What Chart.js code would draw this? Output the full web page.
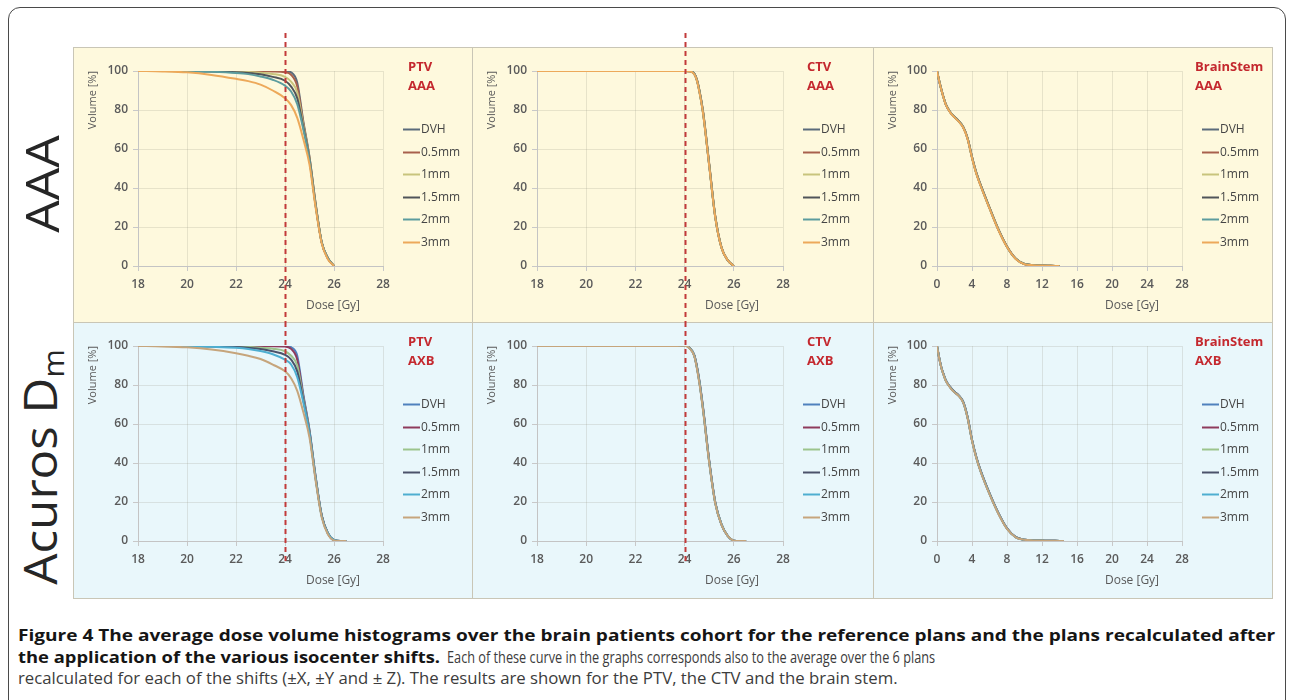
<!DOCTYPE html>
<html><head><meta charset="utf-8">
<script src="https://cdn.jsdelivr.net/npm/chart.js@4.4.1/dist/chart.umd.min.js"></script>
<style>
html,body{margin:0;padding:0;background:#fff;}
body{width:1290px;height:700px;position:relative;overflow:hidden;font-family:"Open Sans",sans-serif;}
#frame{position:absolute;left:8px;top:7px;width:1276px;height:720px;border:1px solid #4a4a4a;border-radius:12px;}
.bg{position:absolute;box-sizing:border-box;border:1px solid #c9c6b6;}
.vdiv{position:absolute;width:1px;background:#c9c6b6;}
canvas{position:absolute;}
.rowlab{position:absolute;white-space:nowrap;font-family:"Open Sans",sans-serif;font-weight:400;font-size:46px;color:#262626;line-height:1;}
.cap{position:absolute;white-space:nowrap;font-size:16.5px;color:#3c3c3c;transform-origin:0 50%;line-height:1;}
.cap.b{color:#151515;font-weight:700;}
</style></head>
<body>
<div id="frame"></div>
<div class="bg" style="left:73px;top:47px;width:1200px;height:276px;background:#fef9dd;"></div>
<div class="bg" style="left:73px;top:322px;width:1200px;height:277px;background:#e9f7fb;"></div>
<div class="vdiv" style="left:472px;top:47px;height:552px;"></div>
<div class="vdiv" style="left:873px;top:47px;height:552px;"></div>

<div class="rowlab" id="lab1" data-w="97" style="left:41px;top:184px;">AAA</div>
<div class="rowlab" id="lab2" data-w="235" style="left:42px;top:467px;">Acuros D<sub style="font-size:62%;vertical-align:-0.25em;">m</sub></div>

<canvas id="c1" width="399" height="297" style="left:73px;top:25px;"></canvas>
<canvas id="c2" width="401" height="297" style="left:472px;top:25px;"></canvas>
<canvas id="c3" width="399" height="297" style="left:873px;top:25px;"></canvas>
<canvas id="c4" width="399" height="293" style="left:73px;top:305px;"></canvas>
<canvas id="c5" width="401" height="293" style="left:472px;top:305px;"></canvas>
<canvas id="c6" width="399" height="293" style="left:873px;top:305px;"></canvas>

<div class="cap b" data-w="1257" style="left:18px;top:627px;">Figure 4 The average dose volume histograms over the brain patients cohort for the reference plans and the plans recalculated after</div>
<div class="cap b" data-w="422" style="left:18px;top:649px;">the application of the various isocenter shifts.</div>
<div class="cap" data-w="488" style="left:447px;top:649px;">Each of these curve in the graphs corresponds also to the average over the 6 plans</div>
<div class="cap" data-w="880" style="left:18px;top:670px;">recalculated for each of the shifts (±X, ±Y and ± Z). The results are shown for the PTV, the CTV and the brain stem.</div>

<script>
// ---------------- DATA ----------------
const seriesLabels = ['DVH', '0.5mm', '1mm', '1.5mm', '2mm', '3mm'];
const referenceDose = 24;

// PTV, AAA
const ptvAAADose = [18, 19, 20, 21, 22, 22.5, 23, 23.5, 24, 24.25, 24.5, 24.75, 25, 25.25, 25.5, 25.75, 26];
const ptvAAAVolumes = [
  [100, 100, 100, 100, 100, 100, 100, 100, 100, 99.3, 94, 74, 56, 32, 12, 4, 0],
  [100, 100, 100, 100, 100, 100, 99.9, 99.8, 99.4, 98, 92, 73, 55.5, 32, 12, 4, 0],
  [100, 100, 100, 99.9, 99.7, 99.5, 99.1, 98.5, 97, 94.5, 89, 72, 55, 31.5, 12, 4, 0],
  [100, 100, 99.9, 99.8, 99.4, 99, 98.3, 97, 95, 92, 86, 71, 54.5, 31, 12, 4, 0],
  [100, 100, 99.9, 99.6, 99, 98.4, 97.2, 95.5, 92.5, 89.5, 83, 70, 54, 31, 12, 4, 0],
  [100, 99.8, 99.3, 98, 96, 94.8, 93, 90, 86, 82.5, 76, 65, 52, 30, 11.5, 3.5, 0]
];

// CTV, AAA
const ctvAAADose = [18, 20, 22, 23, 24, 24.25, 24.4, 24.5, 24.6, 24.75, 25, 25.25, 25.5, 25.75, 26];
const ctvAAAVolumes = [
  [100, 100, 100, 100, 100, 99.8, 98.5, 95.5, 90, 79, 52, 25, 9.5, 3, 0],
  [100, 100, 100, 100, 100, 99.8, 98.6, 95.7, 90.3, 79.4, 52.5, 25.3, 9.6, 3, 0],
  [100, 100, 100, 100, 100, 99.8, 98.5, 95.5, 90, 79, 52.2, 25.1, 9.5, 3, 0],
  [100, 100, 100, 100, 100, 99.8, 98.4, 95.3, 89.8, 78.7, 51.8, 24.8, 9.4, 3, 0],
  [100, 100, 100, 100, 100, 99.8, 98.4, 95.2, 89.6, 78.5, 51.6, 24.7, 9.4, 3, 0],
  [100, 100, 100, 100, 100, 99.7, 98.2, 95, 89.3, 78.2, 51.4, 24.6, 9.3, 3, 0]
];

// BrainStem, AAA
const bsAAADose = [0, 0.25, 0.5, 0.75, 1, 1.5, 2, 2.5, 3, 3.5, 4, 4.5, 5, 6, 7, 8, 9, 10, 11, 12, 13, 14];
const bsAAAVolumes = [
  [100, 95, 90.5, 86.5, 83, 79, 76.5, 74.3, 71.3, 65.5, 56, 47.8, 41.5, 30, 19, 10, 3.8, 1, 0.4, 0.2, 0.1, 0],
  [100, 95, 90.5, 86.5, 83, 79, 76.5, 74.3, 71.3, 65.5, 56, 47.8, 41.5, 30, 19, 10, 3.8, 1, 0.4, 0.2, 0.1, 0],
  [100, 95, 90.4, 86.4, 83, 79, 76.4, 74.2, 71.2, 65.4, 55.8, 47.6, 41.3, 29.9, 18.9, 9.9, 3.7, 1, 0.4, 0.2, 0.1, 0],
  [100, 94.9, 90.4, 86.4, 82.9, 78.9, 76.4, 74.2, 71.1, 65.3, 55.7, 47.5, 41.2, 29.8, 18.8, 9.9, 3.7, 1, 0.4, 0.2, 0.1, 0],
  [100, 94.9, 90.3, 86.3, 82.9, 78.9, 76.3, 74.1, 71.1, 65.2, 55.6, 47.4, 41.1, 29.7, 18.8, 9.8, 3.7, 1, 0.4, 0.2, 0.1, 0],
  [100, 94.8, 90.2, 86.2, 82.8, 78.8, 76.2, 74, 70.9, 65, 55.4, 47.2, 40.9, 29.5, 18.6, 9.7, 3.6, 0.9, 0.4, 0.2, 0.1, 0]
];

// PTV, AXB
const ptvAXBDose = [18, 19, 20, 21, 22, 22.5, 23, 23.5, 24, 24.25, 24.5, 24.75, 25, 25.25, 25.5, 25.75, 26, 26.25, 26.5];
const ptvAXBVolumes = [
  [100, 100, 100, 100, 100, 100, 100, 100.1, 100.4, 99.4, 95, 75, 57, 33, 13, 4, 0.5, 0, 0],
  [100, 100, 100, 100, 100, 100, 99.9, 99.9, 99.8, 98.5, 93, 74, 56.5, 33, 13, 4, 0.5, 0, 0],
  [100, 100, 100, 99.9, 99.7, 99.5, 99.1, 98.6, 97.3, 95, 90, 73, 56, 32.5, 13, 4, 0.5, 0, 0],
  [100, 100, 99.9, 99.8, 99.5, 99.1, 98.5, 97.3, 95.5, 93, 87, 72, 55.5, 32, 13, 4, 0.5, 0, 0],
  [100, 100, 99.9, 99.6, 99.1, 98.5, 97.4, 95.8, 93, 90.5, 84, 71, 55, 32, 12.5, 4, 0.5, 0, 0],
  [100, 99.8, 99.3, 98.2, 96.3, 95, 93.3, 90.5, 87, 83.5, 77, 66, 53, 31, 12, 3.5, 0.3, 0, 0]
];

// CTV, AXB
const ctvAXBDose = [18, 20, 22, 23, 23.5, 24, 24.2, 24.4, 24.6, 24.75, 25, 25.25, 25.5, 25.75, 26, 26.25, 26.5];
const ctvAXBVolumes = [
  [100, 100, 100, 100, 100.1, 100.4, 99, 95, 82, 68, 41, 19.5, 8.5, 2.7, 0.2, 0, 0],
  [100, 100, 100, 100, 100.1, 100.4, 99.1, 95.2, 82.4, 68.5, 41.4, 19.8, 8.6, 2.7, 0.2, 0, 0],
  [100, 100, 100, 100, 100.1, 100.3, 99, 95, 82, 68, 41, 19.5, 8.5, 2.7, 0.2, 0, 0],
  [100, 100, 100, 100, 100.1, 100.3, 98.9, 94.8, 81.6, 67.6, 40.7, 19.3, 8.4, 2.6, 0.2, 0, 0],
  [100, 100, 100, 100, 100.1, 100.3, 98.9, 94.7, 81.4, 67.4, 40.5, 19.2, 8.4, 2.6, 0.2, 0, 0],
  [100, 100, 100, 100, 100.1, 100.2, 98.8, 94.5, 81, 67, 40.2, 19, 8.3, 2.6, 0.2, 0, 0]
];

// BrainStem, AXB
const bsAXBDose = [0, 0.25, 0.5, 0.75, 1, 1.5, 2, 2.5, 3, 3.5, 4, 4.5, 5, 6, 7, 8, 9, 10, 11, 12, 13, 14, 14.5];
const bsAXBVolumes = [
  [100, 94, 89, 85.5, 82.5, 79, 76.5, 74.6, 71.3, 63.5, 52, 43, 36, 24.5, 14.5, 6.5, 2, 0.6, 0.3, 0.2, 0.1, 0.05, 0],
  [100, 94, 89, 85.5, 82.5, 79, 76.5, 74.6, 71.3, 63.5, 52, 43, 36, 24.5, 14.5, 6.5, 2, 0.6, 0.3, 0.2, 0.1, 0.05, 0],
  [100, 93.9, 88.9, 85.4, 82.4, 78.9, 76.4, 74.5, 71.2, 63.3, 51.8, 42.8, 35.8, 24.4, 14.4, 6.4, 2, 0.6, 0.3, 0.2, 0.1, 0.05, 0],
  [100, 93.9, 88.9, 85.4, 82.4, 78.9, 76.4, 74.4, 71.1, 63.2, 51.7, 42.7, 35.7, 24.3, 14.3, 6.4, 2, 0.6, 0.3, 0.2, 0.1, 0.05, 0],
  [100, 93.8, 88.8, 85.3, 82.3, 78.8, 76.3, 74.4, 71, 63.1, 51.6, 42.6, 35.6, 24.2, 14.3, 6.3, 1.9, 0.6, 0.3, 0.2, 0.1, 0.05, 0],
  [100, 93.7, 88.7, 85.2, 82.2, 78.7, 76.2, 74.3, 70.9, 62.9, 51.4, 42.4, 35.4, 24, 14.1, 6.2, 1.9, 0.6, 0.3, 0.2, 0.1, 0.05, 0]
];

const aaaColors = ['#5b6b7b', '#a8604c', '#c9c47c', '#505459', '#5c9c9e', '#eda95a'];
const axbColors = ['#4f81bd', '#8e3b5c', '#9cc48c', '#4b526a', '#4eaed0', '#c6a57c'];

// ---------------- DRAWING ----------------
const extras = {
  id: 'extras',
  afterDatasetsDraw(chart, args, o) {
    const {ctx, chartArea: a} = chart;
    const x = chart.scales.x;
    ctx.save();
    if (o.refLine) {
      const px = Math.round(x.getPixelForValue(referenceDose)) + 0.5;
      ctx.strokeStyle = '#c23a3a';
      ctx.lineWidth = 2;
      ctx.setLineDash([5, 4]);
      ctx.beginPath();
      ctx.moveTo(px, o.refTop);
      ctx.lineTo(px, o.refBottom);
      ctx.stroke();
      ctx.setLineDash([]);
    }
    ctx.textBaseline = 'middle';
    ctx.textAlign = 'center';
    ctx.font = '12px "Open Sans"';
    ctx.fillStyle = '#595959';
    ctx.fillText('Dose [Gy]', a.left + 195, a.bottom + 39.5);
    ctx.textAlign = 'left';
    ctx.font = 'bold 13px "Open Sans"';
    ctx.fillStyle = '#c4282e';
    o.titles.forEach((t, i) => ctx.fillText(t, a.right + o.titleDx, a.top + (i ? 15 : -4)));
    ctx.font = '12px "Open Sans"';
    chart.data.datasets.forEach((d, i) => {
      const y = Math.round(a.top + 58 + i * 22.6) + 0.5;
      ctx.strokeStyle = d.borderColor;
      ctx.lineWidth = 2;
      ctx.beginPath();
      ctx.moveTo(a.right + 20, y);
      ctx.lineTo(a.right + 37, y);
      ctx.stroke();
      ctx.fillStyle = '#454545';
      ctx.fillText(d.label, a.right + 38, y);
    });
    ctx.restore();
  }
};

function makeChart(id, dose, volumes, colors, cfg) {
  const gridColor = 'rgba(150,150,130,0.22)';
  return new Chart(document.getElementById(id), {
    type: 'line',
    data: {
      datasets: volumes.map((v, i) => ({
        label: seriesLabels[i],
        data: dose.map((d, k) => ({x: d, y: v[k]})),
        borderColor: colors[i],
        borderWidth: 2,
        pointRadius: 0,
        fill: false,
        cubicInterpolationMode: 'monotone',
        order: 5 - i
      }))
    },
    options: {
      responsive: false,
      animation: false,
      events: [],
      layout: {padding: {left: 0, top: cfg.top, right: cfg.right, bottom: 0}},
      plugins: {
        legend: {display: false},
        tooltip: {enabled: false},
        extras: cfg.extras
      },
      scales: {
        x: {
          type: 'linear',
          min: cfg.xmin, max: cfg.xmax,
          afterFit: s => { s.height = cfg.xh; },
          ticks: {stepSize: cfg.step, padding: 6, color: '#5a5a5a', font: {family: 'Open Sans', size: 12, weight: '600'}},
          grid: {color: gridColor, tickColor: '#c8c8c8', tickLength: 5},
          border: {color: '#c4c4c4', width: 1}
        },
        y: {
          min: 0, max: 100,
          afterFit: s => { s.width = cfg.yw; },
          ticks: {stepSize: 20, padding: 5, color: '#5a5a5a', font: {family: 'Open Sans', size: 12, weight: '600'}},
          grid: {color: gridColor, tickColor: '#c8c8c8', tickLength: 5},
          border: {color: '#c4c4c4', width: 1},
          title: {display: true, text: 'Volume [%]', align: 'end', color: '#595959', padding: {top: 13, bottom: 0}, font: {family: 'Open Sans', size: 11}}
        }
      }
    },
    plugins: [extras]
  });
}

const topCfg = {top: 46, xh: 56};
const botCfg = {top: 41, xh: 57};

makeChart('c1', ptvAAADose, ptvAAAVolumes, aaaColors, {...topCfg, right: 89, yw: 65, xmin: 18, xmax: 28, step: 2,
  extras: {refLine: true, refTop: 8, refBottom: 297, titles: ['PTV', 'AAA'], titleDx: 25}});
makeChart('c2', ctvAAADose, ctvAAAVolumes, aaaColors, {...topCfg, right: 90, yw: 65, xmin: 18, xmax: 28, step: 2,
  extras: {refLine: true, refTop: 8, refBottom: 297, titles: ['CTV', 'AAA'], titleDx: 24}});
makeChart('c3', bsAAADose, bsAAAVolumes, aaaColors, {...topCfg, right: 90, yw: 64, xmin: 0, xmax: 28, step: 4,
  extras: {refLine: false, titles: ['BrainStem', 'AAA'], titleDx: 13}});
makeChart('c4', ptvAXBDose, ptvAXBVolumes, axbColors, {...botCfg, right: 89, yw: 65, xmin: 18, xmax: 28, step: 2,
  extras: {refLine: true, refTop: 17, refBottom: 258, titles: ['PTV', 'AXB'], titleDx: 25}});
makeChart('c5', ctvAXBDose, ctvAXBVolumes, axbColors, {...botCfg, right: 90, yw: 65, xmin: 18, xmax: 28, step: 2,
  extras: {refLine: true, refTop: 17, refBottom: 258, titles: ['CTV', 'AXB'], titleDx: 24}});
makeChart('c6', bsAXBDose, bsAXBVolumes, axbColors, {...botCfg, right: 90, yw: 64, xmin: 0, xmax: 28, step: 4,
  extras: {refLine: false, titles: ['BrainStem', 'AXB'], titleDx: 13}});

function fitText() {
  document.querySelectorAll('.cap').forEach(el => {
    el.style.transform = 'none';
    const k = (+el.dataset.w) / el.offsetWidth;
    el.style.transform = 'scaleX(' + k + ')';
  });
  document.querySelectorAll('.rowlab').forEach(el => {
    el.style.transform = 'none';
    const k = (+el.dataset.w) / el.offsetWidth;
    el.style.transform = 'translate(-50%,-50%) rotate(-90deg) scaleX(' + k + ')';
  });
}
fitText();
if (document.fonts && document.fonts.ready) document.fonts.ready.then(fitText);
</script>
</body></html>
